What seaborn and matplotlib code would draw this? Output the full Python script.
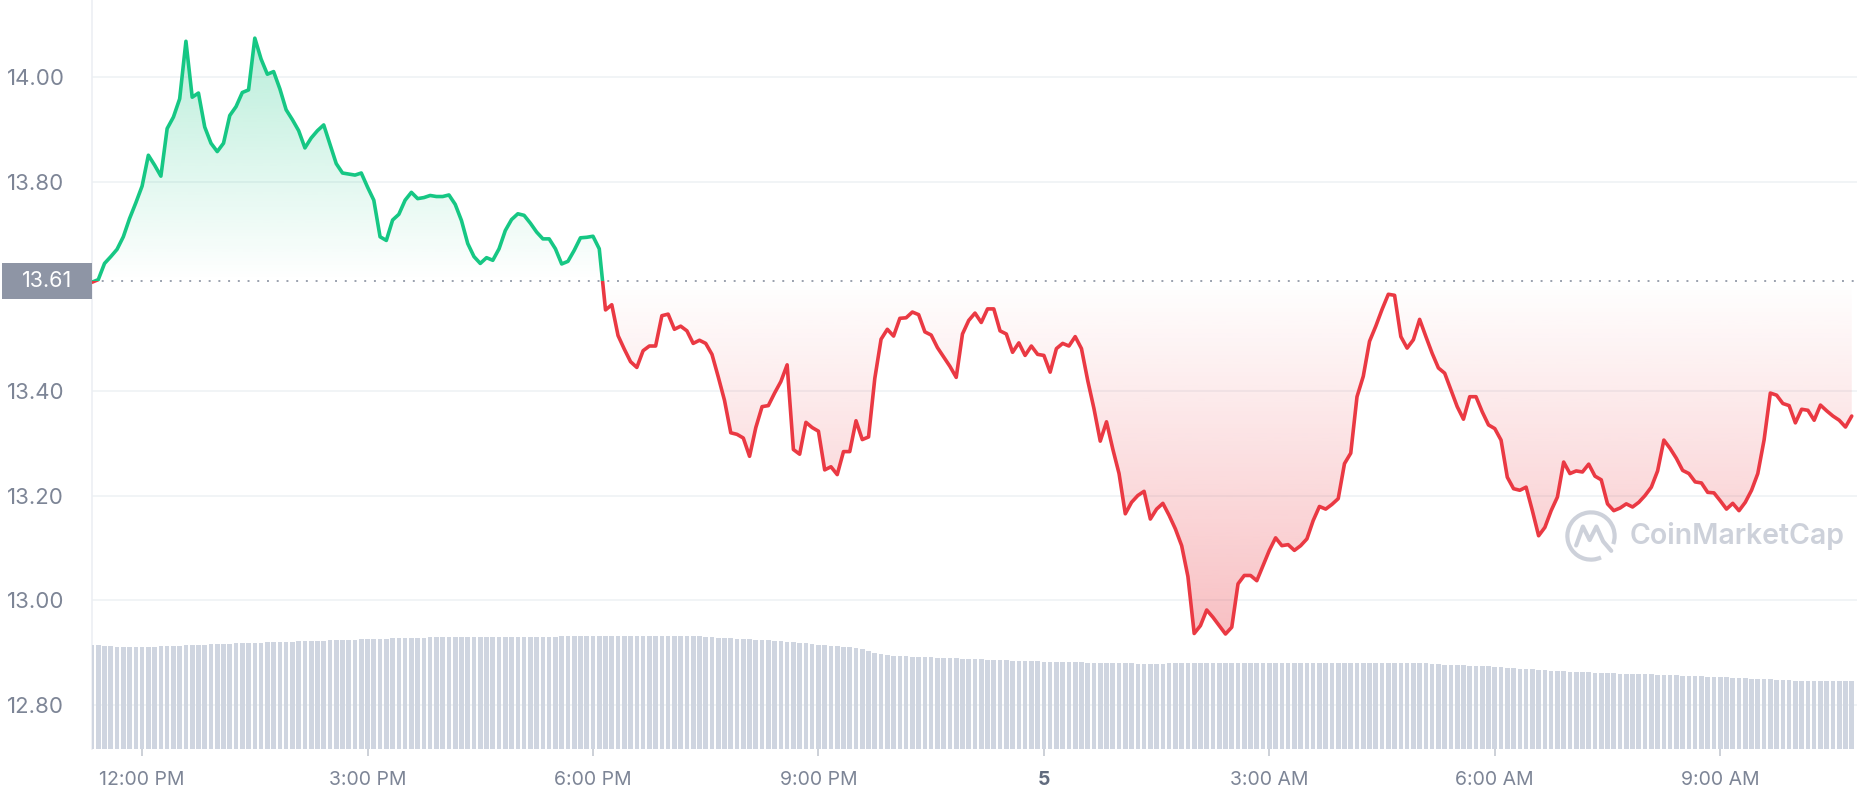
import numpy as np
import pandas as pd
import matplotlib
matplotlib.use('Agg')
import matplotlib.pyplot as plt
import matplotlib.dates as mdates
from matplotlib.colors import to_rgb
from matplotlib.path import Path
from matplotlib.patches import Rectangle, Arc
from matplotlib.transforms import blended_transform_factory
import seaborn as sns

# 5-minute samples starting 11:20 AM
start_time = '2022-09-04 11:20'
price = [
    13.608, 13.613, 13.644, 13.657, 13.671, 13.695, 13.730, 13.760,                          # 11:20
    13.792, 13.851, 13.832, 13.811, 13.902, 13.924, 13.959, 14.069, 13.962, 13.970, 13.905, 13.874,  # 12h
    13.858, 13.874, 13.927, 13.944, 13.971, 13.976, 14.075, 14.035, 14.006, 14.011, 13.978, 13.938,  # 13h
    13.919, 13.898, 13.865, 13.884, 13.898, 13.909, 13.872, 13.835, 13.817, 13.815, 13.813, 13.817,  # 14h
    13.790, 13.765, 13.695, 13.688, 13.727, 13.738, 13.765, 13.780, 13.768, 13.770, 13.774, 13.772,  # 15h
    13.772, 13.775, 13.757, 13.726, 13.682, 13.657, 13.644, 13.655, 13.650, 13.672, 13.707, 13.728,  # 16h
    13.739, 13.736, 13.721, 13.704, 13.691, 13.691, 13.672, 13.643, 13.648, 13.669, 13.693, 13.694,  # 17h
    13.696, 13.672, 13.555, 13.565, 13.506, 13.480, 13.456, 13.445, 13.477, 13.486, 13.486, 13.544,  # 18h
    13.547, 13.518, 13.524, 13.515, 13.491, 13.497, 13.491, 13.470, 13.427, 13.382, 13.320, 13.317,  # 19h
    13.310, 13.275, 13.330, 13.370, 13.372, 13.396, 13.418, 13.450, 13.288, 13.279, 13.340, 13.330,  # 20h
    13.323, 13.249, 13.255, 13.240, 13.284, 13.284, 13.343, 13.307, 13.312, 13.424, 13.499, 13.518,  # 21h
    13.505, 13.539, 13.540, 13.551, 13.546, 13.513, 13.507, 13.483, 13.465, 13.447, 13.426, 13.509,  # 22h
    13.535, 13.549, 13.531, 13.557, 13.557, 13.515, 13.509, 13.474, 13.492, 13.468, 13.486, 13.470,  # 23h
    13.468, 13.436, 13.481, 13.491, 13.486, 13.504, 13.481, 13.420, 13.366, 13.304, 13.341, 13.289,  # 0h
    13.242, 13.165, 13.187, 13.200, 13.208, 13.155, 13.174, 13.185, 13.162, 13.136, 13.104, 13.045,  # 1h
    12.936, 12.951, 12.981, 12.967, 12.951, 12.935, 12.948, 13.031, 13.047, 13.047, 13.037, 13.066,  # 2h
    13.095, 13.119, 13.104, 13.106, 13.095, 13.104, 13.117, 13.152, 13.179, 13.174, 13.183, 13.194,  # 3h
    13.261, 13.281, 13.389, 13.428, 13.495, 13.524, 13.556, 13.585, 13.583, 13.504, 13.482, 13.498,  # 4h
    13.537, 13.504, 13.472, 13.444, 13.434, 13.402, 13.370, 13.346, 13.389, 13.389, 13.360, 13.335,  # 5h
    13.328, 13.306, 13.235, 13.213, 13.210, 13.216, 13.171, 13.123, 13.139, 13.171, 13.197, 13.264,  # 6h
    13.242, 13.247, 13.245, 13.260, 13.237, 13.230, 13.184, 13.171, 13.176, 13.184, 13.178, 13.187,  # 7h
    13.200, 13.216, 13.247, 13.306, 13.290, 13.271, 13.248, 13.242, 13.226, 13.224, 13.206, 13.205,  # 8h
    13.190, 13.174, 13.185, 13.171, 13.187, 13.210, 13.242, 13.306, 13.396, 13.392, 13.376, 13.372,  # 9h
    13.339, 13.365, 13.363, 13.344, 13.373, 13.362, 13.352, 13.344, 13.331, 13.352,                  # 10h
]

# rolling 24h volume (arbitrary units) for each 5-minute bar
volume = [
    520, 520, 515, 515, 510, 510, 510, 510,
    510, 510, 510, 515, 515, 515, 515, 520, 520, 520, 520, 525,
    525, 525, 525, 530, 530, 530, 530, 530, 535, 535, 535, 535,
    535, 540, 540, 540, 540, 540, 545, 545, 545, 545, 545, 550,
    550, 550, 550, 550, 555, 555, 555, 555, 555, 555, 560, 560,
    560, 560, 560, 560, 560, 560, 560, 560, 560, 560, 560, 560,
    560, 560, 560, 560, 560, 560, 560, 565, 565, 565, 565, 565,
    565, 565, 565, 565, 565, 565, 565, 565, 565, 565, 565, 565,
    565, 565, 565, 565, 565, 565, 560, 560, 555, 555, 555, 550,
    550, 550, 545, 545, 545, 540, 540, 535, 535, 530, 530, 525,
    520, 520, 515, 515, 510, 510, 505, 500, 490, 480, 475, 470,
    465, 465, 465, 460, 460, 460, 460, 455, 455, 455, 455, 450,
    450, 450, 450, 445, 445, 445, 445, 440, 440, 440, 440, 440,
    435, 435, 435, 435, 435, 435, 435, 430, 430, 430, 430, 430,
    430, 430, 430, 425, 425, 425, 425, 425, 430, 430, 430, 430,
    430, 430, 430, 430, 430, 430, 430, 430, 430, 430, 430, 430,
    430, 430, 430, 430, 430, 430, 430, 430, 430, 430, 430, 430,
    430, 430, 430, 430, 430, 430, 430, 430, 430, 430, 430, 430,
    430, 430, 425, 425, 420, 420, 420, 420, 415, 415, 415, 415,
    410, 410, 405, 405, 400, 400, 400, 395, 395, 390, 390, 390,
    385, 385, 385, 385, 380, 380, 380, 380, 375, 375, 375, 375,
    375, 375, 370, 370, 370, 370, 365, 365, 365, 365, 360, 360,
    360, 360, 355, 355, 355, 350, 350, 350, 350, 345, 345, 345,
    340, 340, 340, 340, 340, 340, 340, 340, 340, 340,
]

open_price = 13.61
y_ticks = [12.80, 13.00, 13.20, 13.40, 13.80, 14.00]
tick_times = ['2022-09-04 12:00', '2022-09-04 15:00', '2022-09-04 18:00', '2022-09-04 21:00',
              '2022-09-05 00:00', '2022-09-05 03:00', '2022-09-05 06:00', '2022-09-05 09:00']
tick_labels = ['12:00 PM', '3:00 PM', '6:00 PM', '9:00 PM', '5', '3:00 AM', '6:00 AM', '9:00 AM']

green = '#16c784'
red = '#ea3943'
grey_text = '#7d8596'

times = pd.date_range(start_time, periods=len(price), freq='5min')
df = pd.DataFrame({'time': times, 'price': price, 'volume': volume})

sns.set_theme(style='white')
plt.rcParams['font.family'] = ['Inter', 'DejaVu Sans']

W, H = 1858, 800
fig = plt.figure(figsize=(W / 100, H / 100), dpi=100)
ax = fig.add_axes([92 / W, 51 / H, 1766 / W, 749 / H])

# price line, drawn twice and clipped above / below the open price
trans = blended_transform_factory(ax.transAxes, ax.transData)
sns.lineplot(data=df, x='time', y='price', ax=ax, color=green, linewidth=2.6, zorder=4)
line_up = ax.lines[-1]
line_up.set_clip_path(Rectangle((0, open_price), 1, 5, transform=trans))
sns.lineplot(data=df, x='time', y='price', ax=ax, color=red, linewidth=2.6, zorder=4)
line_dn = ax.lines[-1]
line_dn.set_clip_path(Rectangle((0, open_price - 5), 1, 5, transform=trans))


def gradient_fill(ax, x, y, base, color, alpha_far, above):
    y = np.asarray(y)
    mask = y >= base if above else y <= base
    poly = ax.fill_between(x, y, base, where=mask, interpolate=True, color='none', linewidth=0)
    path = Path.make_compound_path(*poly.get_paths())
    poly.remove()
    if above:
        lo, hi = base, y.max()
        alphas = np.linspace(0, alpha_far, 256)
    else:
        lo, hi = y.min(), base
        alphas = np.linspace(alpha_far, 0, 256)
    rgba = np.zeros((256, 1, 4))
    rgba[..., :3] = to_rgb(color)
    rgba[..., 3] = alphas[:, None]
    xn = mdates.date2num(x)
    im = ax.imshow(rgba, extent=[xn[0], xn[-1], lo, hi], origin='lower',
                   aspect='auto', zorder=2, interpolation='bilinear')
    im.set_clip_path(path, transform=ax.transData)


gradient_fill(ax, times, price, open_price, green, 0.3, True)
gradient_fill(ax, times, price, open_price, red, 0.32, False)

# dotted open-price line and its label
ax.axhline(open_price, color='#9aa1ae', linewidth=1.4, linestyle=(0, (1, 4)), zorder=3)
ax.add_patch(Rectangle((-90 / 1766, open_price - 0.0345), 90 / 1766, 0.069, transform=trans,
                       facecolor='#8e95a5', edgecolor='none', clip_on=False, zorder=5))
ax.text(-45 / 1766, open_price, f'{open_price:.2f}', transform=trans, ha='center', va='center',
        color='white', fontsize=15.5, clip_on=False, zorder=6)

# volume bars on a hidden twin axis
ax2 = ax.twinx()
ax2.bar(df['time'], df['volume'], width=3.7 / 1440, color='#cfd5e0', linewidth=0)
ax2.set_ylim(0, 3745)
ax2.set_axis_off()

ax.set_xlim(times[0], times[0] + pd.Timedelta(minutes=1410))
ax.set_ylim(12.715, 14.148)

ax.set_yticks(y_ticks)
ax.set_yticklabels([f'{v:.2f}' for v in y_ticks])
ax.tick_params(axis='y', length=0, pad=61, labelsize=16, labelcolor=grey_text)
for lab in ax.get_yticklabels():
    lab.set_horizontalalignment('left')
ax.grid(axis='y', color='#eff2f5', linewidth=1.2)
ax.grid(axis='x', visible=False)

ax.set_xticks(pd.to_datetime(tick_times))
ax.set_xticklabels(tick_labels)
ax.tick_params(axis='x', bottom=True, length=5, width=1.2, color='#c3c8d1', pad=11,
               labelsize=14, labelcolor=grey_text)
for lab in ax.get_xticklabels():
    if lab.get_text() == '5':
        lab.set_fontweight('bold')
        lab.set_color('#616b7e')

ax.set_xlabel('')
ax.set_ylabel('')
for side in ['top', 'right', 'bottom']:
    ax.spines[side].set_visible(False)
ax.spines['left'].set_color('#eceff3')
ax.spines['left'].set_linewidth(1.2)

# watermark
ax.text(0.8705, 0.284, 'CoinMarketCap', transform=ax.transAxes, ha='left', va='center',
        fontsize=20.5, color='#cdd1da', fontweight='semibold', zorder=1)
logo = fig.add_axes([(1591 - 27) / W, (800 - 536 - 27) / H, 54 / W, 54 / H])
logo.set_xlim(-1, 1)
logo.set_ylim(-1, 1)
logo.set_axis_off()
logo.add_patch(Arc((0, 0), 1.75, 1.75, theta1=-20, theta2=295, color='#cdd1da', linewidth=3))
logo.plot([-0.55, -0.3, -0.05, 0.2, 0.45, 0.75], [-0.35, 0.35, -0.15, 0.35, -0.2, -0.55],
          color='#cdd1da', linewidth=3, solid_joinstyle='round', solid_capstyle='round')

fig.savefig('out.png', dpi=100, facecolor='white')
